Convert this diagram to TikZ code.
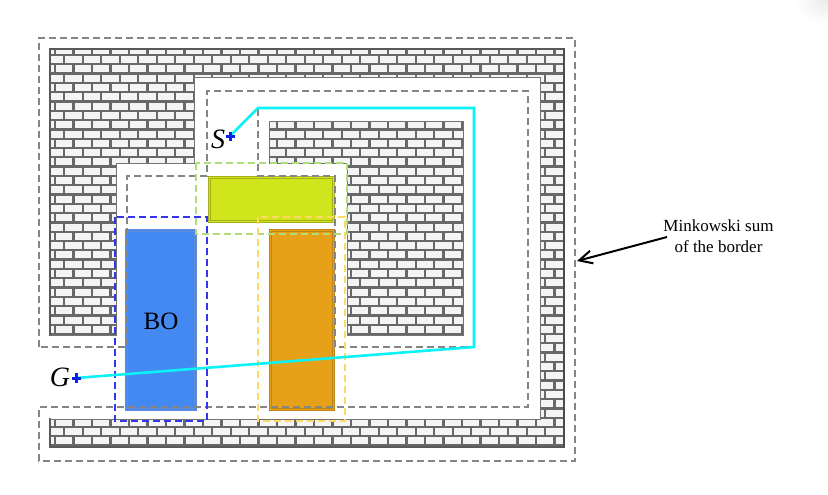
\documentclass[tikz,border=0pt]{standalone}
\usepackage{fontspec}
\setmainfont{Liberation Serif}
\usetikzlibrary{arrows.meta}
\definecolor{mortar}{HTML}{686868}
\definecolor{brick}{HTML}{F4F4F4}
\definecolor{dashgrey}{HTML}{858585}
\definecolor{goalcol}{HTML}{0A22E8}
\definecolor{routecol}{HTML}{0CF2F6}
\definecolor{limefill}{HTML}{D0E51C}
\definecolor{limeedge}{HTML}{A5AF1A}
\definecolor{bluefill}{HTML}{4488F2}
\definecolor{blueedge}{HTML}{5F8BD8}
\definecolor{orangefill}{HTML}{E6A118}
\definecolor{orangeedge}{HTML}{BD8518}
\definecolor{limedash}{HTML}{AEDD7A}
\definecolor{orangedash}{HTML}{FFD966}
\definecolor{bluedash}{HTML}{3434EE}
\tikzset{
  dashline/.style={draw=dashgrey,line width=1.1pt,dash pattern=on 7pt off 4pt},
  zone/.style={line width=1.1pt,dash pattern=on 7pt off 4pt},
  route/.style={draw=routecol,line width=2.6pt,line join=miter},
  crossmark/.style={draw=goalcol,line width=3pt},
  lab/.style={inner sep=0pt,font=\fontsize{17}{21}\selectfont,align=center},
  mortarline/.style={draw=mortar,line width=2.3pt}
}
\newcommand{\brickpattern}{%
\foreach \r in {0,...,43}{
  \pgfmathsetmacro{\yy}{55+9.3*\r}
  \draw[mortarline] (50,\yy) -- (564,\yy);
}
\foreach \r in {0,2,...,44}{
  \pgfmathsetmacro{\ya}{45.7+9.3*\r}
  \pgfmathsetmacro{\yb}{55+9.3*\r}
  \foreach \c in {0,...,27}{
    \pgfmathsetmacro{\xa}{55+18.5*\c}
    \draw[mortarline] (\xa,\ya) -- (\xa,\yb);
  }
}
\foreach \r in {0,2,...,42}{
  \pgfmathsetmacro{\ya}{55+9.3*\r}
  \pgfmathsetmacro{\yb}{64.3+9.3*\r}
  \foreach \c in {0,...,27}{
    \pgfmathsetmacro{\xa}{64.25+18.5*\c}
    \draw[mortarline] (\xa,\ya) -- (\xa,\yb);
  }
}}
\begin{document}
\begin{tikzpicture}[x=1pt,y=-1pt]
\useasboundingbox (0,0) rectangle (828,495);
\fill[white] (0,0) rectangle (828,495);
\begin{scope}
\clip (790,0) rectangle (828,30);
\shade[inner color=black!8,outer color=white,draw=none] (828,0) ellipse (34 and 24);
\end{scope}
% wall
\begin{scope}
\clip (50,49) rectangle (564,447);
\fill[brick] (50,49) rectangle (564,447);
\brickpattern
\end{scope}
\draw[draw=black!65,line width=1.6pt] (50,49) rectangle (564,447);
\draw[draw=black!70,line width=2.4pt] (564,49) -- (564,447);
% free space
\fill[white,draw=black!55,line width=0.9pt] (194,77) -- (540,77) -- (540,419) -- (50,419) -- (50,335) -- (116,335) -- (116,163) -- (194,163) -- cycle;
\fill[white] (49,336) rectangle (52,418);
% inner block
\begin{scope}
\clip (269,121) -- (463,121) -- (463,335) -- (347,335) -- (347,163) -- (269,163) -- cycle;
\fill[brick] (269,121) rectangle (463,335);
\brickpattern
\end{scope}
\draw[black!55,line width=1pt] (269,121) -- (463,121) -- (463,335) -- (347,335) -- (347,163) -- (269,163) -- cycle;
% obstacles
\fill[limefill] (208,176) rectangle (334,222);
\draw[limeedge,line width=1pt] (208,176) rectangle (334,222);
\draw[limeedge,line width=0.8pt] (210,178) rectangle (332,220);
\fill[bluefill] (125,229) rectangle (196,410);
\draw[blueedge,line width=1pt] (125,229) rectangle (196,410);
\draw[blueedge,line width=0.7pt] (127,231) rectangle (194,408);
\fill[orangefill] (269,229) rectangle (334,410);
\draw[orangeedge,line width=1pt] (269,229) rectangle (334,410);
\draw[orangeedge,line width=0.8pt] (271,231) rectangle (332,408);
% Minkowski outlines
\draw[dashline] (39,347) -- (39,38) -- (575,38) -- (575,461) -- (39,461) -- (39,407) -- (528,407) -- (528,91) -- (207,91) -- (207,176) -- (127,176) -- (127,347) -- cycle;
\draw[dashline] (258,108) -- (474,108) -- (474,347) -- (335,347) -- (335,176) -- (258,176) -- cycle;
\draw[zone,draw=limedash] (196,163) rectangle (347,234);
\draw[zone,draw=orangedash] (258,217) rectangle (345,421);
\draw[zone,draw=bluedash] (115,217) rectangle (207,421);
% labels and route
\coordinate (start) at (230,136);
\coordinate (bendA) at (258,108);
\coordinate (bendB) at (474,108);
\coordinate (bendC) at (474,347);
\coordinate (goal) at (76,378);
\coordinate (borderpt) at (577,261);
\draw[route] (start) -- (bendA) -- (bendB) -- (bendC) -- (goal);
\draw[crossmark] (226,136) -- (235,136) (230.5,131.5) -- (230.5,140.5);
\draw[crossmark] (72,378) -- (81,378) (76.5,373) -- (76.5,383);
\node[lab,font=\fontsize{28}{30}\selectfont\itshape] (slabel) at (218,139) {S};
\node[lab,font=\fontsize{28}{30}\selectfont\itshape] (glabel) at (60,377) {G};
\node[lab,font=\fontsize{25}{27}\selectfont] (bolabel) at (161,321) {BO};
\node[lab] (mink) at (718.5,236.5) {Minkowski sum\\of the border};
\draw[line width=2pt,-{Straight Barb[length=13pt,width=13pt]}] (667,237) -- (borderpt);
\end{tikzpicture}
\end{document}
